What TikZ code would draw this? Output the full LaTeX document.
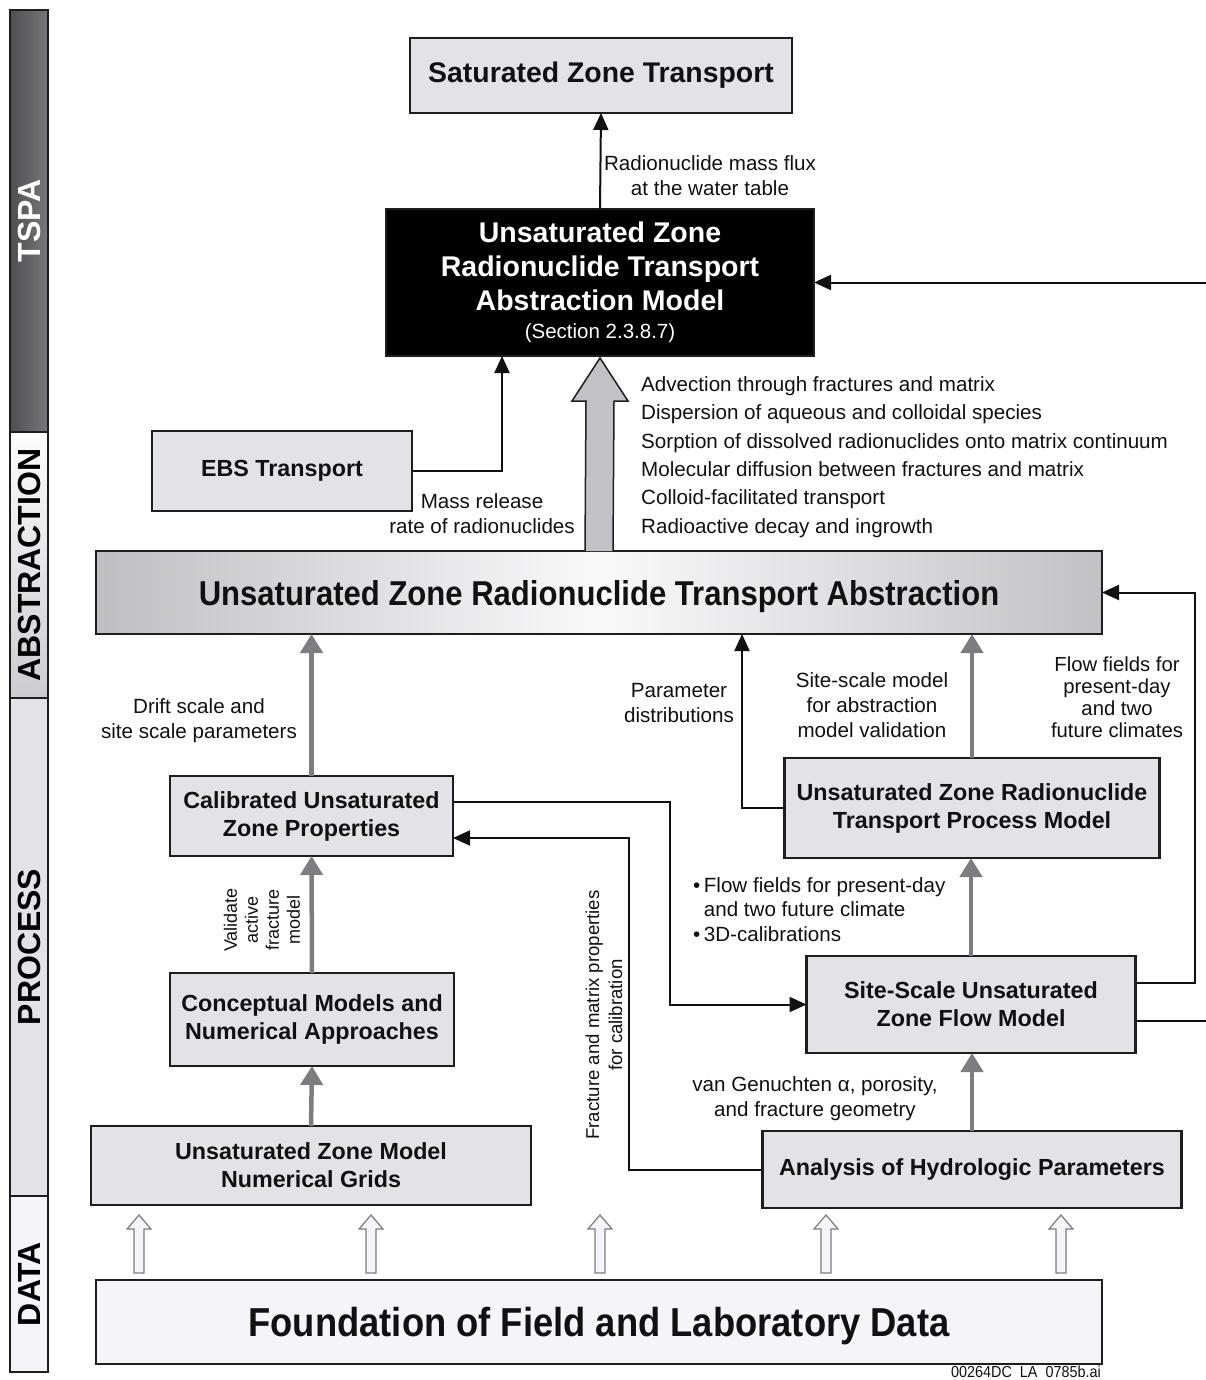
\documentclass[tikz,border=0pt]{standalone}
\usepackage{fontspec}
\setmainfont{Liberation Sans}
\newfontfamily\condfont[FakeStretch=0.9]{Liberation Sans}
\usetikzlibrary{arrows.meta,calc,positioning}
\definecolor{uzink}{HTML}{111111}
\definecolor{uzline}{HTML}{1E1E1E}
\definecolor{uzfill}{HTML}{E3E2E6}
\definecolor{uzpale}{HTML}{F5F4F8}
\definecolor{uzgray}{HTML}{7D7C80}
\definecolor{uzarrowfill}{HTML}{C2C1C5}
\definecolor{uzdark}{HTML}{4F4F51}
\definecolor{uzmid}{HTML}{77767A}
\tikzset{
  uzlabel/.style={font=\fontsize{20.6}{25}\selectfont, text=uzink, align=center, inner sep=0pt},
  uzbox/.style={draw=uzline, fill=uzfill, line width=2.5pt, text=uzink,
    font=\fontsize{23.3}{28}\selectfont\bfseries, align=center, inner sep=0pt, outer sep=0pt},
  blackflow/.style={-{Triangle[length=17pt,width=15pt]}, draw=uzink, line width=2pt},
  grayflow/.style={-{Triangle[length=19pt,width=22pt]}, draw=uzgray, line width=4.5pt},
  bigarrow/.style={draw=uzline, fill=uzarrowfill, line width=1.5pt},
  dataarrow/.style={draw=uzgray, fill=uzpale, line width=1.2pt},
  barseg/.style={draw=uzline, line width=2pt, minimum width=38pt, inner sep=0pt, outer sep=0pt},
  bartext/.style={font=\fontsize{32}{32}\selectfont\bfseries, rotate=90, inner sep=0pt}
}
\begin{document}
\begin{tikzpicture}[x=1pt,y=-1pt]
  \useasboundingbox[fill=white] (0,0) rectangle (1206,1380);

  % level bar on the left
  \node[barseg, left color=uzdark, right color=uzmid, minimum height=422pt] (bartspa) at (29,221) {};
  \node[barseg, top color=white!92!uzfill, bottom color=uzarrowfill!70!uzfill, minimum height=266pt] (barabs) at (29,565) {};
  \node[barseg, fill=uzfill, minimum height=498pt] (barproc) at (29,947) {};
  \node[barseg, fill=uzpale, minimum height=176pt] (bardata) at (29,1284) {};
  \node[bartext, text=white] at (bartspa) {TSPA};
  \node[bartext] at (barabs) {ABSTRACTION};
  \node[bartext] at (barproc) {PROCESS};
  \node[bartext] at (bardata) {DATA};

  % TSPA level
  \node[uzbox, minimum width=382pt, minimum height=75pt, font=\fontsize{28.4}{34}\selectfont\bfseries] (szt) at (601,75.5) {Saturated Zone Transport};
  \node[uzbox, fill=black, text=white, minimum width=428pt, minimum height=147pt, font=\fontsize{28.5}{34}\selectfont\bfseries] (uzmodel) at (600,282.5)
    {Unsaturated Zone\\Radionuclide Transport\\Abstraction Model\\[-6pt]{\fontsize{20.5}{24}\selectfont\mdseries (Section 2.3.8.7)}};
  \draw[blackflow] (uzmodel.north) -- (szt.south);
  \node[uzlabel] at (710,176) {Radionuclide mass flux\\at the water table};
  \coordinate (eastin) at (1206,282.5);
  \draw[blackflow] (eastin) -- (uzmodel.east);

  % abstraction level
  \node[uzbox, minimum width=260pt, minimum height=80pt] (ebs) at (282,471) {EBS Transport};
  \draw[blackflow] (ebs.east) -| ($(uzmodel.south west)+(116,0)$);
  \node[uzlabel] at (482,514) {Mass release\\rate of radionuclides};
  \node[uzbox, left color=uzarrowfill!85!black!10!uzarrowfill, right color=uzarrowfill, middle color=white!80!uzfill,
    minimum width=1006pt, minimum height=83pt, text depth=0pt, font=\condfont\fontsize{34.5}{36}\selectfont\bfseries] (uzabs) at (599,592.5)
    {Unsaturated Zone Radionuclide Transport Abstraction};
  \draw[bigarrow] ($(uzabs.north)+(-14,0)$) -- ($(uzmodel.south)+(-14,45)$) -- ++(-14,0)
    -- ($(uzmodel.south)+(0,2)$) -- ($(uzmodel.south)+(28,45)$) -- ++(-14,0)
    -- ($(uzabs.north)+(14,0)$);
  \node[uzlabel, align=left, anchor=west, font=\fontsize{20.6}{28.4}\selectfont] at (641,457)
    {Advection through fractures and matrix\\
     Dispersion of aqueous and colloidal species\\
     Sorption of dissolved radionuclides onto matrix continuum\\
     Molecular diffusion between fractures and matrix\\
     Colloid-facilitated transport\\
     Radioactive decay and ingrowth};

  % process level
  \node[uzbox, minimum width=283pt, minimum height=80pt] (calib) at (311.5,816) {Calibrated Unsaturated\\Zone Properties};
  \node[uzbox, minimum width=284pt, minimum height=93pt] (concept) at (312,1019.5) {Conceptual Models and\\Numerical Approaches};
  \node[uzbox, minimum width=440pt, minimum height=79pt] (grids) at (311,1165.5) {Unsaturated Zone Model\\Numerical Grids};
  \node[uzbox, minimum width=375pt, minimum height=100pt] (rtpm) at (972,808) {Unsaturated Zone Radionuclide\\Transport Process Model};
  \node[uzbox, minimum width=329pt, minimum height=97pt] (sitescale) at (971,1004.5) {Site-Scale Unsaturated\\Zone Flow Model};
  \node[uzbox, minimum width=419pt, minimum height=77pt] (hydro) at (972,1169.5) {Analysis of Hydrologic Parameters};

  \draw[grayflow] (calib.north) -- (calib.north |- uzabs.south);
  \draw[grayflow] (concept.north) -- (calib.south);
  \draw[grayflow] (grids.north) -- (concept.south);
  \draw[grayflow] (rtpm.north) -- (rtpm.north |- uzabs.south);
  \draw[grayflow] (sitescale.north) -- (sitescale.north |- rtpm.south);
  \draw[grayflow] (hydro.north) -- (hydro.north |- sitescale.south);
  \node[uzlabel] at (199,721) {Drift scale and\\site scale parameters};
  \node[uzlabel, rotate=90, font=\fontsize{18}{21}\selectfont] at (262,920) {Validate\\active\\fracture\\model};
  \node[uzlabel] at (872,705) {Site-scale model\\for abstraction\\model validation};
  \node[uzlabel, font=\fontsize{20.3}{22}\selectfont] at (1117,697) {Flow fields for\\present-day\\and two\\future climates};
  \node[uzlabel, align=left, anchor=west, font=\fontsize{20.6}{24.5}\selectfont] at (693,909.5)
    {•\,Flow fields for present-day\\\phantom{•\,}and two future climate\\•\,3D-calibrations};
  \node[uzlabel] at (815,1098.5) {van Genuchten α, porosity,\\and fracture geometry};
  \node[uzlabel] at (679,703.5) {Parameter\\distributions};
  \node[uzlabel, rotate=90, font=\fontsize{18.6}{23}\selectfont] at (604,1015) {Fracture and matrix properties\\for calibration};

  \draw[blackflow] (rtpm.west) -| ($(uzabs.south east)+(-360,0)$);
  \draw[blackflow] ($(calib.east)+(0,-14)$) -- ++(217,0) |- (sitescale.west);
  \draw[blackflow] (hydro.west) -- ++(-134,0) |- ($(calib.east)+(0,22)$);
  \draw[blackflow] ($(sitescale.east)+(0,-22)$) -- ++(59,0) |- (uzabs.east);
  \coordinate (eastout) at (1206,1020.5);
  \draw[draw=uzink, line width=2pt] ($(sitescale.east)+(0,16)$) -- (eastout);

  % data level
  \node[uzbox, fill=uzpale, minimum width=1006pt, minimum height=84pt, text depth=0pt, font=\condfont\fontsize{40.4}{42}\selectfont\bfseries] (found) at (599,1322)
    {Foundation of Field and Laboratory Data};
  \foreach \dx in {-460,-228,1,227,462} {
    \draw[dataarrow] ($(found.north)+(\dx-5,-7)$) -- ++(0,-44) -- ++(-7,0) -- ++(12,-14)
      -- ++(12,14) -- ++(-7,0) -- ++(0,44) -- cycle;
  }
  \node[uzlabel, anchor=east, font=\condfont\fontsize{16}{16}\selectfont] at (1101,1371.5) {00264DC\ \ LA\ \ 0785b.ai};
\end{tikzpicture}
\end{document}
